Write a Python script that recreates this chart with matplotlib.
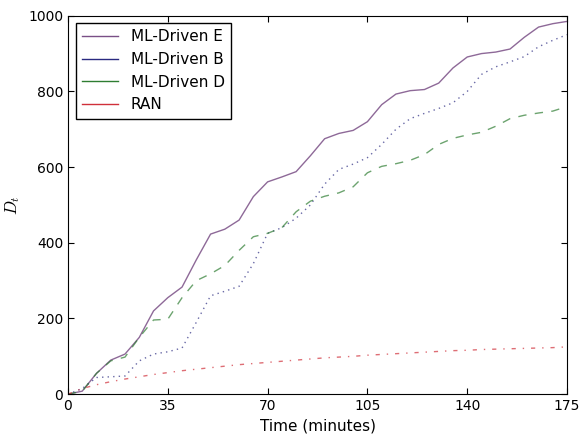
import matplotlib
matplotlib.use("Agg")
import matplotlib.pyplot as plt

minutes = list(range(0, 180, 5))

ml_driven_e = [0, 8, 55, 90, 106, 150, 220, 255, 283, 355, 423, 436, 460, 522, 561, 574,
               588, 630, 675, 689, 697, 720, 765, 793, 802, 805, 822, 862, 891, 900, 904,
               912, 943, 970, 979, 985]
ml_driven_b = [0, 15, 44, 46, 48, 88, 106, 112, 122, 190, 260, 272, 285, 345, 425, 440,
               465, 500, 555, 594, 608, 625, 660, 700, 728, 742, 755, 770, 800, 845, 865,
               878, 892, 918, 935, 950]
ml_driven_d = [0, 8, 55, 88, 98, 150, 196, 198, 255, 300, 318, 340, 380, 416, 425, 440,
               482, 510, 523, 532, 548, 585, 602, 609, 618, 633, 660, 676, 685, 692, 708,
               728, 737, 743, 748, 760]
ran = [0, 15, 25, 33, 40, 46, 52, 57, 62, 66, 70, 74, 78, 81, 84, 87, 90, 93, 96, 98,
       100, 103, 105, 107, 109, 111, 113, 115, 116, 118, 119, 120, 121, 122, 123, 125]

xticks = [0, 35, 70, 105, 140, 175]
yticks = [0, 200, 400, 600, 800, 1000]

plt.rcParams['mathtext.fontset'] = 'cm'
plt.rcParams['font.family'] = ['DejaVu Sans']

fig = plt.figure(figsize=(5.81, 4.37), dpi=100)
ax = fig.add_axes([0.117, 0.098, 0.859, 0.866])

ax.plot(minutes, ml_driven_e, color='#7a4f86', lw=1.0, ls='-', alpha=0.85, label='ML-Driven E')
ax.plot(minutes, ml_driven_b, color='#2a2a80', lw=1.0, ls=(0, (1, 3)), alpha=0.7, label='ML-Driven B')
ax.plot(minutes, ml_driven_d, color='#2e7d32', lw=1.0, ls=(0, (6, 6)), alpha=0.7, label='ML-Driven D')
ax.plot(minutes, ran, color='#d0303a', lw=1.0, ls=(0, (3, 5, 1, 5)), alpha=0.7, label='RAN')

ax.set_xlim(0, 175)
ax.set_ylim(0, 1000)
ax.set_xticks(xticks)
ax.set_yticks(yticks)
ax.tick_params(direction='in', top=True, right=True, length=4, labelsize=10)
ax.set_xlabel('Time (minutes)', fontsize=11)
ax.set_ylabel('$D_t$', fontsize=12)

leg = ax.legend(loc='upper left', fontsize=11, fancybox=False, framealpha=1,
                edgecolor='black', handlelength=2.4, borderaxespad=0.5)
leg.get_frame().set_linewidth(1.0)
for line in leg.get_lines():
    line.set_linestyle('-')
    line.set_alpha(1.0)

fig.savefig('out.png', dpi=100)
